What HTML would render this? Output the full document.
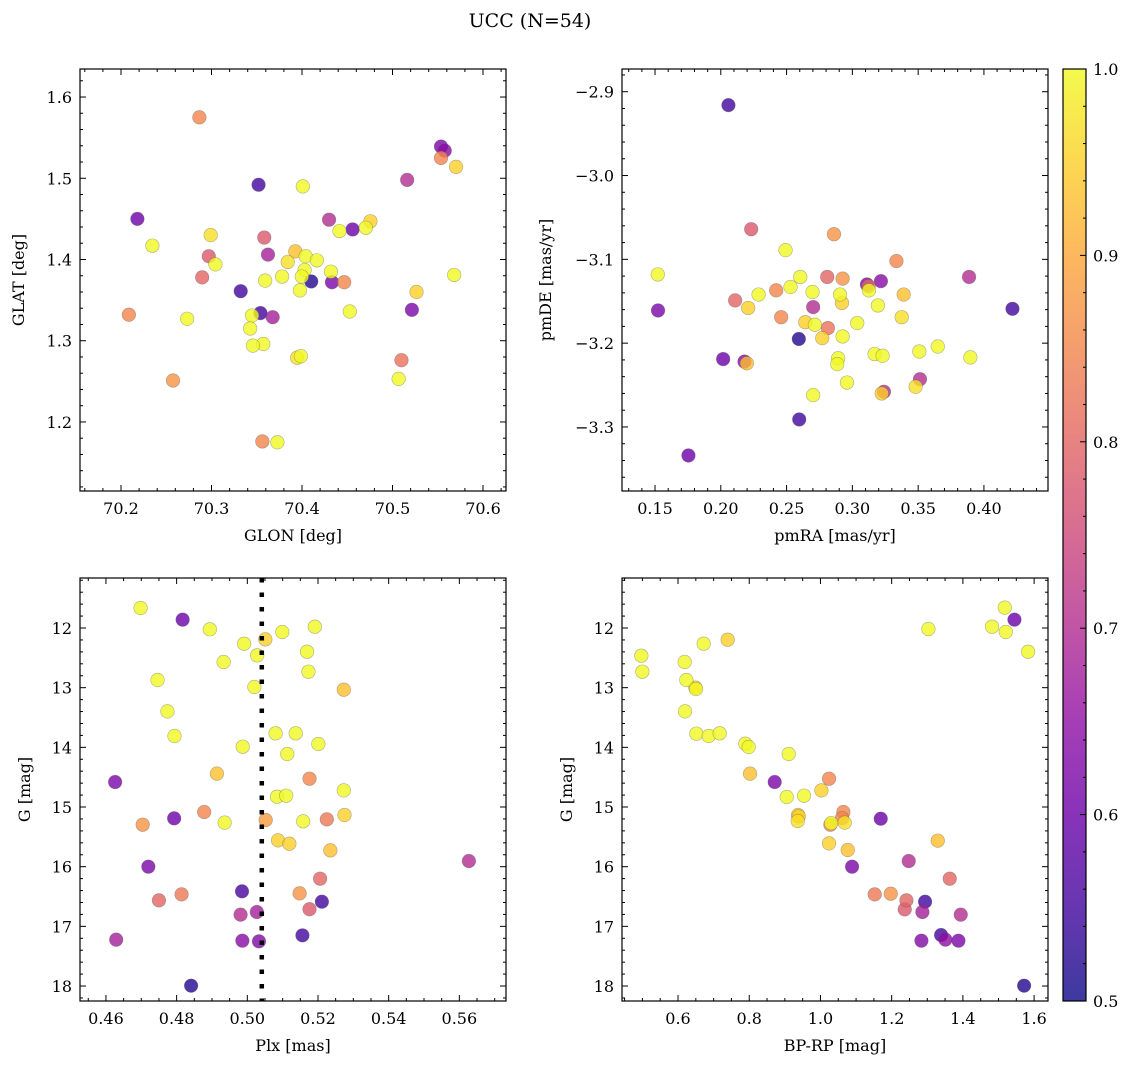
<!DOCTYPE html>
<html><head><meta charset="utf-8"><style>
html,body{margin:0;padding:0;background:#fff;}
svg{display:block;font-family:"DejaVu Serif","Liberation Serif",serif;}
</style></head><body>
<svg id="fig" width="1136" height="1068" viewBox="0 0 1136 1068" xmlns="http://www.w3.org/2000/svg">
<defs><linearGradient id="plasma" x1="0" y1="1" x2="0" y2="0">
<stop offset="0" stop-color="#0d0887"/><stop offset="0.1" stop-color="#41049d"/><stop offset="0.2" stop-color="#6a00a8"/><stop offset="0.3" stop-color="#8f0da4"/><stop offset="0.4" stop-color="#b12a90"/><stop offset="0.5" stop-color="#cc4778"/><stop offset="0.6" stop-color="#e16462"/><stop offset="0.7" stop-color="#f2844b"/><stop offset="0.8" stop-color="#fca636"/><stop offset="0.9" stop-color="#fcce25"/><stop offset="1" stop-color="#f0f921"/>
</linearGradient></defs>
<text x="530" y="27" font-size="19" text-anchor="middle">UCC (N=54)</text>
</svg>
<script>
// Panel 1: GLON vs GLAT
const glon = [70.2866,70.5536,70.5577,70.5536,70.5702,70.5162,70.3520,70.4009,70.2181,70.4299,70.4756,70.4705,70.4414,70.4559,70.2991,70.2347,70.3583,70.3624,70.2970,70.3043,70.3926,70.4040,70.4164,70.3842,70.4029,70.4320,70.3998,70.3780,70.3593,70.4102,70.4331,70.4466,70.2897,70.5681,70.3323,70.3977,70.5265,70.2087,70.2731,70.3541,70.3448,70.3676,70.4528,70.5214,70.3427,70.3572,70.3458,70.3946,70.3988,70.5099,70.5068,70.2575,70.3562,70.3728];
const glat = [1.575,1.539,1.534,1.525,1.514,1.498,1.492,1.490,1.450,1.449,1.447,1.439,1.435,1.437,1.430,1.417,1.427,1.406,1.404,1.394,1.410,1.404,1.399,1.397,1.387,1.385,1.379,1.379,1.374,1.373,1.372,1.372,1.378,1.381,1.361,1.362,1.360,1.332,1.327,1.334,1.331,1.329,1.336,1.338,1.315,1.296,1.294,1.279,1.281,1.276,1.253,1.251,1.176,1.175];
const prob1 = [0.85,0.62,0.64,0.85,0.95,0.7,0.55,1,0.6,0.7,0.95,1,1,0.6,0.97,1,0.78,0.68,0.78,1,0.93,1,1,0.97,1,1,1,1,1,0.52,0.62,0.85,0.8,1,0.55,1,0.95,0.85,1,0.55,1,0.68,1,0.62,1,1,1,0.97,1,0.82,1,0.87,0.85,1];
// Panel 2: pmRA vs pmDE
const pmra = [0.2058,0.2231,0.2860,0.2492,0.3335,0.1521,0.2604,0.2809,0.2926,0.3887,0.3111,0.3123,0.3217,0.3126,0.2287,0.2530,0.2697,0.2421,0.2906,0.2921,0.3390,0.2109,0.2208,0.1523,0.2702,0.3194,0.4217,0.2459,0.3375,0.2642,0.2715,0.2814,0.3037,0.2926,0.2771,0.2593,0.3649,0.3509,0.3169,0.3230,0.2018,0.2180,0.2198,0.2892,0.2885,0.3897,0.3514,0.3481,0.2959,0.3240,0.3223,0.2702,0.2596,0.1754];
const pmde = [-2.916,-3.064,-3.070,-3.089,-3.102,-3.118,-3.121,-3.121,-3.123,-3.121,-3.130,-3.132,-3.126,-3.137,-3.142,-3.133,-3.139,-3.137,-3.142,-3.152,-3.142,-3.149,-3.158,-3.161,-3.157,-3.155,-3.159,-3.169,-3.169,-3.175,-3.178,-3.182,-3.176,-3.192,-3.194,-3.195,-3.204,-3.210,-3.213,-3.215,-3.219,-3.222,-3.224,-3.218,-3.225,-3.217,-3.243,-3.252,-3.247,-3.258,-3.260,-3.262,-3.291,-3.334];
const prob2 = [0.55,0.78,0.87,1,0.85,1,1,0.8,0.87,0.7,0.62,0.8,0.64,1,1,1,1,0.85,1,0.95,0.93,0.8,0.95,0.62,0.7,1,0.55,0.85,0.97,0.95,1,0.82,1,1,0.95,0.52,1,1,1,1,0.6,0.64,0.93,1,1,1,0.7,0.97,1,0.7,0.95,1,0.55,0.6];
// Panel 3: Plx vs G
const plx = [0.4698,0.4817,0.4894,0.5191,0.5099,0.5051,0.4991,0.5169,0.5028,0.4933,0.5173,0.4746,0.5020,0.5273,0.4774,0.4794,0.5080,0.5137,0.4987,0.5201,0.5113,0.4914,0.5176,0.4626,0.5273,0.5084,0.5110,0.4878,0.4793,0.4704,0.4936,0.5052,0.5158,0.5225,0.5275,0.5087,0.5119,0.5235,0.5627,0.4720,0.5206,0.4985,0.4814,0.5148,0.4750,0.5211,0.5176,0.4981,0.5027,0.4629,0.4986,0.5033,0.5156,0.4841];
const gmag3 = [11.665,11.860,12.022,11.978,12.067,12.190,12.263,12.397,12.458,12.570,12.732,12.871,12.989,13.034,13.397,13.810,13.765,13.765,13.989,13.944,14.112,14.441,14.525,14.581,14.721,14.827,14.810,15.084,15.190,15.296,15.262,15.218,15.240,15.207,15.134,15.559,15.615,15.726,15.905,16.000,16.201,16.413,16.464,16.447,16.564,16.587,16.713,16.804,16.760,17.223,17.240,17.251,17.151,17.994];
const prob3 = [1,0.6,1,1,1,0.95,1,1,1,1,1,1,1,0.93,1,1,1,1,1,1,1,0.93,0.85,0.62,1,1,1,0.85,0.6,0.87,1,0.88,1,0.83,0.95,0.95,0.95,0.93,0.7,0.62,0.8,0.56,0.83,0.87,0.8,0.55,0.78,0.7,0.68,0.68,0.64,0.63,0.55,0.52];
const plxMean = [0.5041];
// Panel 4: BP-RP vs G
const bprp = [1.5176,1.5448,1.3032,1.4820,1.5204,1.5831,0.7395,0.6721,0.4970,0.4998,0.6187,0.6234,0.6487,0.6506,0.6197,0.6515,0.6861,0.7170,0.7891,0.7985,0.9109,0.8023,0.8715,1.0241,1.0026,0.9053,0.9539,1.0644,0.9371,0.9362,1.0279,1.0682,1.1693,1.0241,1.0766,1.3294,1.2479,1.0888,1.3631,1.1524,1.1974,1.2414,1.2938,1.2367,1.2863,1.3940,1.3388,1.3509,1.2835,1.3875,1.5719,1.0607,0.9389,1.0300];
const gmag4 = [11.659,11.860,12.017,11.978,12.067,12.397,12.196,12.263,12.464,12.732,12.570,12.871,12.999,13.022,13.397,13.771,13.810,13.765,13.939,13.994,14.112,14.441,14.581,14.525,14.721,14.832,14.810,15.084,15.134,15.235,15.296,15.262,15.196,15.609,15.721,15.564,15.905,16.000,16.201,16.464,16.453,16.564,16.587,16.715,16.760,16.804,17.145,17.223,17.240,17.240,17.994,15.185,15.157,15.270];
const prob4 = [1,0.6,1,1,1,1,0.95,1,1,1,1,1,0.95,1,1,1,1,1,1,1,1,0.93,0.62,0.85,0.95,1,1,0.85,0.95,0.97,0.85,0.97,0.6,0.95,0.93,0.93,0.7,0.62,0.8,0.83,0.87,0.8,0.55,0.78,0.68,0.7,0.55,0.65,0.63,0.62,0.52,0.85,0.95,1];
const cbTicks = [0.5,0.6,0.7,0.8,0.9,1.0];

const NS='http://www.w3.org/2000/svg';
const svg=document.getElementById('fig');
const stops=[[13,8,135],[65,4,157],[106,0,168],[143,13,164],[177,42,144],[204,71,120],[225,100,98],[242,132,75],[252,166,54],[252,206,37],[240,249,33]];
function plasma(p){let t=Math.max(0,Math.min(1,(p-0.5)/0.5))*10;let i=Math.min(9,Math.floor(t));let f=t-i;const a=stops[i],b=stops[i+1];return 'rgb('+a.map((v,k)=>Math.round(v+(b[k]-v)*f)).join(',')+')';}
function mk(tag,attrs,parent){const e=document.createElementNS(NS,tag);for(const k in attrs)e.setAttribute(k,attrs[k]);(parent||svg).appendChild(e);return e;}
function fmt(v,d){return (v<0?'\u2212':'')+Math.abs(v).toFixed(d);}

function panel(o){
  const g=mk('g',{});
  
  
  const {L,T,W,H}=o;
  const sx=v=>L+(v-o.x0)/(o.x1-o.x0)*W;
  const sy=o.invert?(v=>T+(v-o.y0)/(o.y1-o.y0)*H):(v=>T+H-(v-o.y0)/(o.y1-o.y0)*H);
  mk('rect',{x:L,y:T,width:W,height:H,fill:'#fff'},g);
  const pg=mk('g',{},g);
  
  
  const idx=o.p.map((v,i)=>i).sort((a,b)=>o.p[a]-o.p[b]);
  idx.forEach(i=>{
    const c=mk('circle',{cx:sx(o.xs[i]),cy:sy(o.ys[i]),r:6.8,fill:plasma(o.p[i]),'fill-opacity':0.8,stroke:'#555','stroke-opacity':0.45,'stroke-width':0.6},pg);
    
    
  });
  if(o.vline!==undefined){
    const l=mk('line',{x1:sx(o.vline),x2:sx(o.vline),y1:T,y2:T+H,stroke:'#000','stroke-width':4.5,'stroke-dasharray':'4.5 10'},g);
    
    
  }
  const tg=mk('g',{stroke:'#000','stroke-width':1},g);
  const eps=1e-9;
  for(let v=Math.ceil(o.x0/o.xmin-eps)*o.xmin;v<=o.x1+eps;v+=o.xmin){
    const x=sx(v);const major=Math.abs(v/o.xmaj-Math.round(v/o.xmaj))<1e-4;const len=major?6:3;
    mk('line',{x1:x,x2:x,y1:T+H,y2:T+H-len},tg);mk('line',{x1:x,x2:x,y1:T,y2:T+len},tg);
    if(major){const t=mk('text',{x:x,y:T+H+23,'font-size':16,'text-anchor':'middle',stroke:'none'},g);t.textContent=fmt(v,o.xd);}
  }
  const ylo=Math.min(o.y0,o.y1),yhi=Math.max(o.y0,o.y1);
  for(let v=Math.ceil(ylo/o.ymin-eps)*o.ymin;v<=yhi+eps;v+=o.ymin){
    const y=sy(v);const major=Math.abs(v/o.ymaj-Math.round(v/o.ymaj))<1e-4;const len=major?6:3;
    mk('line',{x1:L,x2:L+len,y1:y,y2:y},tg);mk('line',{x1:L+W,x2:L+W-len,y1:y,y2:y},tg);
    if(major){const t=mk('text',{x:L-8,y:y+6,'font-size':16,'text-anchor':'end',stroke:'none'},g);t.textContent=fmt(v,o.yd);}
  }
  const fr=mk('rect',{x:L,y:T,width:W,height:H,fill:'none',stroke:'#000','stroke-width':1.2},g);
  
  const xl=mk('text',{x:L+W/2,y:T+H+50,'font-size':16,'text-anchor':'middle'},g);xl.textContent=o.xlab;
  
  const yl=mk('text',{x:0,y:0,'font-size':16,'text-anchor':'middle',transform:`translate(${o.ylx},${T+H/2}) rotate(-90)`},g);yl.textContent=o.ylab;
  
}

panel({name:'glon-glat-panel',L:80,T:69,W:426,H:422,x0:70.1547,x1:70.6254,y0:1.115,y1:1.6345,xmaj:0.1,xmin:0.02,ymaj:0.1,ymin:0.02,xd:1,yd:1,xs:glon,ys:glat,p:prob1,xlab:'GLON [deg]',ylab:'GLAT [deg]',ylx:24});
panel({name:'pm-panel',L:622,T:69,W:426,H:422,x0:0.1249,x1:0.4487,y0:-3.3764,y1:-2.8729,xmaj:0.05,xmin:0.01,ymaj:0.1,ymin:0.02,xd:2,yd:1,xs:pmra,ys:pmde,p:prob2,xlab:'pmRA [mas/yr]',ylab:'pmDE [mas/yr]',ylx:551});
panel({name:'plx-g-panel',L:80,T:578,W:426,H:423,x0:0.45266,x1:0.5732,y0:11.162,y1:18.251,invert:true,xmaj:0.02,xmin:0.005,ymaj:1,ymin:0.2,xd:2,yd:0,xs:plx,ys:gmag3,p:prob3,xlab:'Plx [mas]',ylab:'G [mag]',ylx:30,vline:plxMean[0]});
panel({name:'cmd-panel',L:622,T:578,W:426,H:423,x0:0.4427,x1:1.639,y0:11.162,y1:18.251,invert:true,xmaj:0.2,xmin:0.05,ymaj:1,ymin:0.2,xd:1,yd:0,xs:bprp,ys:gmag4,p:prob4,xlab:'BP-RP [mag]',ylab:'G [mag]',ylx:572});

const cb=mk('g',{});


const cT=69,cB=1001,cL=1063,cW=23;
const cy=v=>cB-(v-0.5)/0.5*(cB-cT);
mk('rect',{x:cL,y:cT,width:cW,height:cB-cT,fill:'url(#plasma)','fill-opacity':0.8},cb);
mk('rect',{x:cL,y:cT,width:cW,height:cB-cT,fill:'none',stroke:'#000','stroke-width':1.2},cb);
for(let v=0.5;v<=1.0001;v+=0.02){const y=cy(v);const major=Math.abs(v*10-Math.round(v*10))<1e-4;mk('line',{x1:cL+cW,x2:cL+cW-(major?6:3),y1:y,y2:y,stroke:'#000'},cb);}
cbTicks.forEach(v=>{const t=mk('text',{x:cL+cW+7,y:cy(v)+6,'font-size':16},cb);t.textContent=v.toFixed(1);});
</script>
</body></html>
